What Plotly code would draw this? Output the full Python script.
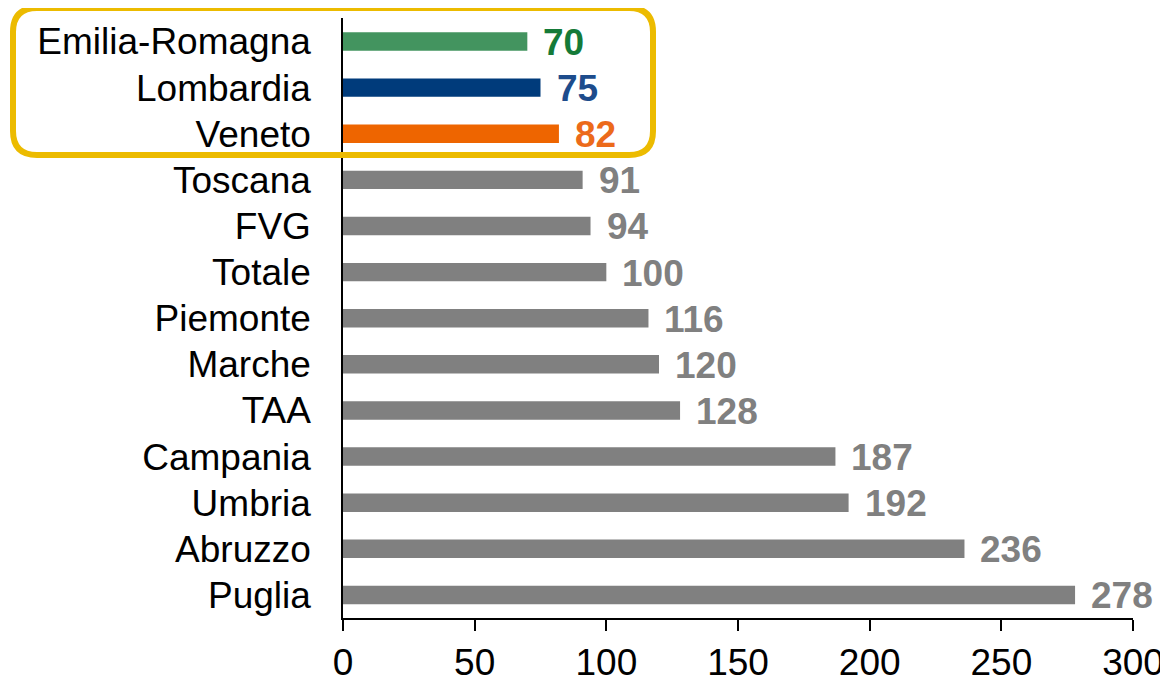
import plotly.graph_objects as go

regions = ["Emilia-Romagna", "Lombardia", "Veneto", "Toscana", "FVG", "Totale",
           "Piemonte", "Marche", "TAA", "Campania", "Umbria", "Abruzzo", "Puglia"]
values = [70, 75, 82, 91, 94, 100, 116, 120, 128, 187, 192, 236, 278]

bar_colors = ["#43945F", "#003B7B", "#EE6500"] + ["#808080"] * 10
label_colors = ["#157A38", "#1D4C8C", "#EC6A1A"] + ["#808080"] * 10

x_ticks = [0, 50, 100, 150, 200, 250, 300]

# page has an 8px body margin, so the figure is a bit smaller than the window
OFF = 8
W, H = 1168 - OFF, 681 - OFF
L, R, T, B = 343 - OFF, 35, 18 - OFF, 63
pw, ph = W - L - R, H - T - B

fig = go.Figure()
fig.add_trace(go.Bar(
    x=values, y=regions, orientation="h",
    marker=dict(color=bar_colors, line=dict(width=0)),
    width=0.4, hoverinfo="skip",
))

for reg, v, c in zip(regions, values, label_colors):
    fig.add_annotation(x=v, y=reg, text=str(v), showarrow=False,
                       xanchor="left", yanchor="middle", xshift=14, yshift=-1,
                       font=dict(family="Liberation Sans, Arial", size=37,
                                 color=c, weight="bold"))


# rounded highlight box, given in page pixels then converted to paper
def px(x):
    return (x - 343) / pw


def py(y):
    return (618 - y) / ph


def rounded_box(x0, y0, x1, y1, r):
    pts = [
        f"M {px(x0 + r)},{py(y0)}",
        f"L {px(x1 - r)},{py(y0)}",
        f"Q {px(x1)},{py(y0)} {px(x1)},{py(y0 + r)}",
        f"L {px(x1)},{py(y1 - r)}",
        f"Q {px(x1)},{py(y1)} {px(x1 - r)},{py(y1)}",
        f"L {px(x0 + r)},{py(y1)}",
        f"Q {px(x0)},{py(y1)} {px(x0)},{py(y1 - r)}",
        f"L {px(x0)},{py(y0 + r)}",
        f"Q {px(x0)},{py(y0)} {px(x0 + r)},{py(y0)}",
        "Z",
    ]
    return " ".join(pts)


fig.add_shape(type="path", xref="paper", yref="paper",
              path=rounded_box(13, 8, 653, 155, 24),
              line=dict(color="#ECBB00", width=6), layer="above")

fig.update_layout(
    width=W, height=H,
    margin=dict(l=L, r=R, t=T, b=B, autoexpand=False),
    paper_bgcolor="white", plot_bgcolor="white",
    showlegend=False,
    font=dict(family="Liberation Sans, Arial", size=37, color="black"),
    xaxis=dict(range=[0, 300], tickvals=x_ticks, showgrid=False, zeroline=False,
               showline=True, linecolor="black", linewidth=1.5,
               ticks="outside", ticklen=11, tickwidth=1.5, tickcolor="black",
               tickfont=dict(size=37), automargin=False, fixedrange=True),
    yaxis=dict(autorange="reversed", showgrid=False, zeroline=False,
               showline=True, linecolor="black", linewidth=1.5,
               ticks="", ticklabelstandoff=23, tickfont=dict(size=37),
               automargin=False),
)

fig.write_html("out.html")
